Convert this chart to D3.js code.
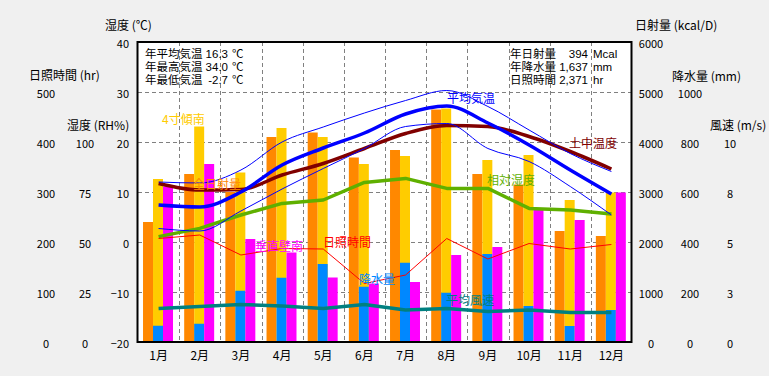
<!DOCTYPE html>
<html>
<head>
<meta charset="utf-8">
<script src="https://cdn.jsdelivr.net/npm/d3@7"></script>
<style>
html,body{margin:0;padding:0;background:#f0f0f0;}
svg{display:block;font-family:"Noto Sans CJK JP","Noto Sans",sans-serif;}
</style>
</head>
<body>
<svg id="chart" width="769" height="376"></svg>
<script>
// ---- data ----
const months = ["1月","2月","3月","4月","5月","6月","7月","8月","9月","10月","11月","12月"];
const solarGlobal   = [2400,3360,3000,4100,4190,3690,3840,4650,3360,3150,2220,2120]; // 全日射量 kcal/D
const solarTilt     = [3260,4310,3390,4280,4100,3560,3720,4670,3640,3740,2840,2990]; // 4寸傾南
const solarVertical = [3110,3560,2060,1790,1290,1170,1200,1740,1900,2640,2440,2990]; // 垂直壁南
const precip        = [65,73,205,257,312,221,317,197,352,144,64,128];                 // mm
const tempAvg  = [7.4,7.0,10.0,15.4,18.8,21.8,25.6,27.2,23.8,19.4,14.4,9.6];
const tempMax  = [12.0,11.8,14.4,20.0,23.0,25.8,28.3,30.3,27.1,22.4,17.7,14.1];
const tempMin  = [2.7,2.2,6.2,10.6,14.7,18.7,23.1,23.7,18.7,16.1,11.1,5.4];
const tempSoil = [11.7,10.4,10.5,13.4,15.7,18.7,21.7,23.3,23.1,21.1,18.1,14.6];
const humidity = [52.7,56.8,63.5,69.3,71.0,79.8,81.8,76.8,76.8,66.8,66.0,64.0];
const sunshine = [207,214,174,187,186,117,134,207,166,197,186,195];
const wind     = [1.68,1.78,1.88,1.80,1.68,1.88,1.60,1.68,1.52,1.60,1.48,1.48];

const tempTicks   = [-20,-10,0,10,20,30,40];
const hrTicks     = [0,100,200,300,400,500];
const rhTicks     = [0,25,50,75,100];
const solarTicks  = [0,1000,2000,3000,4000,5000,6000];
const precipTicks = [0,200,400,600,800,1000];
const windTicks   = [0,2.5,5,7.5,10];

const infoLeft  = [["年平均気温","16.3","℃"],["年最高気温","34.0","℃"],["年最低気温","-2.7","℃"]];
const infoRight = [["年日射量","394","Mcal"],["年降水量","1,637","mm"],["日照時間","2,371","hr"]];

// ---- layout ----
const L = 138, R = 632, T = 42, B = 342;
const svg = d3.select("#chart");

const x = d3.scaleBand().domain(months).range([L, R]).padding(0);
const bw = x.bandwidth();
const xc = m => x(m) + bw / 2;
const xi = d3.scaleBand().domain(["g","t","v"]).range([bw*0.122, bw*0.85]).padding(0);

const yTemp   = d3.scaleLinear().domain([-20,40]).range([B,T]);
const yHr     = d3.scaleLinear().domain([0,600]).range([B,T]);
const yRH     = d3.scaleLinear().domain([0,150]).range([B,T]);
const ySolar  = d3.scaleLinear().domain([0,6000]).range([B,T]);
const yPrecip = d3.scaleLinear().domain([0,1200]).range([B,T]);
const yWind   = d3.scaleLinear().domain([0,15]).range([B,T]);

// plot background
svg.append("rect").attr("x",L).attr("y",T).attr("width",R-L).attr("height",B-T).attr("fill","#fff");

// grid
const grid = svg.append("g").attr("stroke","#808080").attr("stroke-width",1).attr("stroke-dasharray","4,3");
grid.selectAll("line.h").data(tempTicks.filter(t => t > -20 && t < 40)).join("line")
  .attr("x1",L).attr("x2",R).attr("y1",d=>yTemp(d)+0.5).attr("y2",d=>yTemp(d)+0.5);
grid.selectAll("line.v").data(months.slice(1)).join("line")
  .attr("x1",d=>Math.round(x(d))+0.5).attr("x2",d=>Math.round(x(d))+0.5).attr("y1",T).attr("y2",B);

// bars
const idx = d3.range(12);
function bars(vals, key, scale, color) {
  svg.append("g").selectAll("rect").data(idx).join("rect")
    .attr("x", i => x(months[i]) + xi(key))
    .attr("width", xi.bandwidth())
    .attr("y", i => scale(vals[i]))
    .attr("height", i => B - scale(vals[i]))
    .attr("fill", color);
}
bars(solarGlobal, "g", ySolar, "#ff8800");
bars(solarTilt, "t", ySolar, "#ffcc00");
bars(precip, "t", yPrecip, "#0088ff");
bars(solarVertical, "v", ySolar, "#ff00ff");

// lines
function line(vals, scale, color, width, curve) {
  const gen = d3.line().x(i => xc(months[i])).y(i => scale(vals[i])).curve(curve || d3.curveLinear);
  svg.append("path").attr("d", gen(idx)).attr("fill","none").attr("stroke",color)
    .attr("stroke-width",width).attr("stroke-linejoin","round");
}
line(humidity, yRH, "#5fb000", 3.5);
line(sunshine, yHr, "#ff0000", 1);
line(wind, yWind, "#008080", 3.5);
line(tempSoil, yTemp, "#800000", 3.5, d3.curveMonotoneX);
line(tempMax, yTemp, "#0000ff", 1, d3.curveMonotoneX);
line(tempMin, yTemp, "#0000ff", 1, d3.curveMonotoneX);
line(tempAvg, yTemp, "#0000ff", 3.5, d3.curveMonotoneX);

// border
svg.append("rect").attr("x",L-0.5).attr("y",T).attr("width",R-L).attr("height",B-T)
  .attr("fill","none").attr("stroke","#000").attr("stroke-width",2);

// series labels
const labels = [
  ["4寸傾南",162,118,"#ffcc00"],
  ["全日射量",193,183,"#ff8800"],
  ["垂直壁南",255,245,"#ff00ff"],
  ["日照時間",323,241,"#ff0000"],
  ["降水量",359,278,"#0088ff"],
  ["平均風速",446,299,"#008080"],
  ["相対湿度",487,179,"#5fb000"],
  ["土中温度",569,142,"#800000"],
  ["平均気温",447,97,"#0000ff"]
];
svg.append("g").selectAll("text").data(labels).join("text")
  .attr("x",d=>d[1]).attr("y",d=>d[2]).attr("dominant-baseline","central")
  .attr("font-size",12).attr("fill",d=>d[3]).text(d=>d[0]);

// info boxes: one multi-line text element per box
function info(rows, x0, xv, xu) {
  const t = svg.append("text").attr("font-size",11.5).attr("fill","#000")
    .attr("font-family",'"Liberation Sans","Noto Sans CJK JP",sans-serif');
  rows.forEach((r,i) => {
    const yy = 58 + i*13;
    t.append("tspan").attr("x",x0).attr("y",yy).text(r[0]);
    const v = t.append("tspan").attr("y",yy).text(r[1]);
    const w = v.node().getComputedTextLength();
    v.attr("x", xv - w);
    t.append("tspan").attr("x",xu).attr("y",yy).text(r[2]);
  });
}
info(infoLeft, 145, 228, 232);
info(infoRight, 510, 588, 593);

// axes (labels only)
function axis(scale, ticks, xpos, anchor, fmt) {
  const g = svg.append("g").attr("transform",`translate(${xpos},0)`)
    .call(d3.axisLeft(scale).tickValues(ticks).tickSize(0).tickPadding(0).tickFormat(fmt || d3.format("d")));
  g.select(".domain").remove();
  g.selectAll("text").attr("x",0).attr("dy",null).attr("dominant-baseline","central")
    .attr("text-anchor",anchor).attr("font-size",11)
    .attr("font-family",'"Noto Sans CJK JP","Noto Sans",sans-serif').attr("fill","#000");
}
axis(yTemp, tempTicks, 129, "end");
axis(yHr, hrTicks, 46, "middle");
axis(yRH, rhTicks, 85, "middle");
axis(ySolar, solarTicks, 651, "middle");
axis(yPrecip, precipTicks, 690, "middle");
axis(yWind, windTicks, 730, "middle", d3.format(".0f"));

// month axis
const gx = svg.append("g").attr("transform",`translate(0,${B})`)
  .call(d3.axisBottom(x).tickSize(0).tickPadding(0));
gx.select(".domain").remove();
gx.selectAll("text").attr("y",12).attr("dy",null).attr("dominant-baseline","central")
  .attr("font-size",12).attr("font-family",'"Noto Sans CJK JP","Noto Sans",sans-serif').attr("fill","#000");

// axis titles
const titles = [
  ["湿度 (℃)",105,24],
  ["日照時間 (hr)",29,74],
  ["湿度 (RH%)",67,124],
  ["日射量 (kcal/D)",635,24],
  ["降水量 (mm)",672,75],
  ["風速 (m/s)",710,124]
];
svg.append("g").selectAll("text").data(titles).join("text")
  .attr("x",d=>d[1]).attr("y",d=>d[2]).attr("dominant-baseline","central")
  .attr("font-size",12).attr("fill","#000").text(d=>d[0]);
</script>
</body>
</html>
